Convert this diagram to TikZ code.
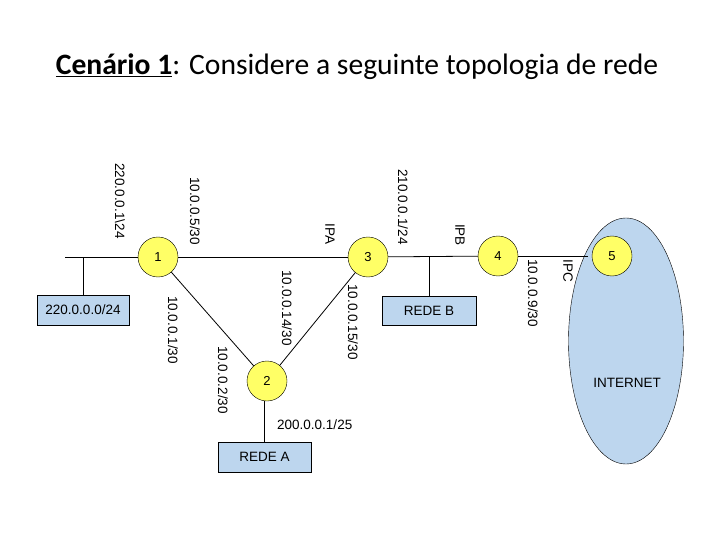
\documentclass[tikz,border=0pt]{standalone}
\usepackage{fontspec}
\setmainfont{Liberation Sans}
\newfontfamily\titlefont{Carlito}
\usetikzlibrary{shapes.geometric}
\definecolor{nodeyellow}{RGB}{255,255,102}
\definecolor{netblue}{RGB}{189,214,238}
\tikzset{
  router/.style={circle,draw=black,fill=nodeyellow,minimum size=40pt,inner sep=0pt,font=\fontsize{13}{15}\selectfont},
  netbox/.style={rectangle,draw=black,fill=netblue,inner sep=0pt,font=\fontsize{13.5}{16}\selectfont},
  vlabel/.style={rotate=-90,inner sep=0pt,font=\fontsize{13.5}{16}\selectfont},
  hlabel/.style={inner sep=0pt,font=\fontsize{13.5}{16}\selectfont},
  link/.style={draw=black,line width=0.8pt}
}
\begin{document}
\begin{tikzpicture}[x=1pt,y=-1pt]
\useasboundingbox (0,0) rectangle (720,540);
% title
\node[anchor=base,inner sep=0pt,font=\titlefont\fontsize{29.6}{34}\selectfont] (title) at (357,75)
  {\textbf{\underline{Cenário 1}}: Considere a seguinte topologia de rede};
% internet ellipse
\node[ellipse,draw=black,fill=netblue,minimum width=115pt,minimum height=246pt,inner sep=0pt] (inet) at (626,341) {};
\node[hlabel] (inettext) at (627,383) {INTERNET};
% routers
\node[router] (r1) at (158,257) {1};
\node[router] (r3) at (368,257) {3};
\node[router] (r4) at (498,256) {4};
\node[router] (r5) at (612,256) {5};
\node[router] (r2) at (267,381) {2};
% boxes
\node[netbox,minimum width=92pt,minimum height=30pt] (n220) at (83,310) {220.0.0.0/24};
\node[netbox,minimum width=94pt,minimum height=29pt] (redeb) at (429,310.5) {REDE B};
\node[netbox,minimum width=93pt,minimum height=30pt] (redea) at (264.5,457) {REDE A};
% coordinates
\coordinate (left) at (65,257);
\coordinate (j220) at (83,257);
\coordinate (jb) at (429,257);
\coordinate (ipc) at (588,256);
% links
\draw[link] (left) -- (r1);
\draw[link] (j220) -- (n220.north);
\draw[link] (r1) -- (r3);
\draw[link] (r3) -- (r4);
\draw[link] (jb) -- (redeb.north);
\draw[link] (r4) -- (ipc);
\draw[link] (r1) -- (r2);
\draw[link] (r3) -- (r2);
\draw[link] (r2.south -| redea.north) -- (redea.north);
% labels
\node[vlabel] (l1) at (120,201) {220.0.0.1\textbackslash 24};
\node[vlabel] (l2) at (195,211) {10.0.0.5/30};
\node[vlabel] (l3) at (330,234) {IPA};
\node[vlabel] (l4) at (403,207) {210.0.0.1/24};
\node[vlabel] (l5) at (460,235) {IPB};
\node[vlabel] (l6) at (287,308) {10.0.0.14/30};
\node[vlabel] (l7) at (173,330) {10.0.0.1/30};
\node[vlabel] (l8) at (223,380) {10.0.0.2/30};
\node[vlabel] (l9) at (353,322) {10.0.0.15/30};
\node[vlabel] (l10) at (533,293) {10.0.0.9/30};
\node[vlabel] (l11) at (568,271) {IPC};
\node[hlabel,anchor=west] (l12) at (277,425) {200.0.0.1/25};
\end{tikzpicture}
\end{document}
